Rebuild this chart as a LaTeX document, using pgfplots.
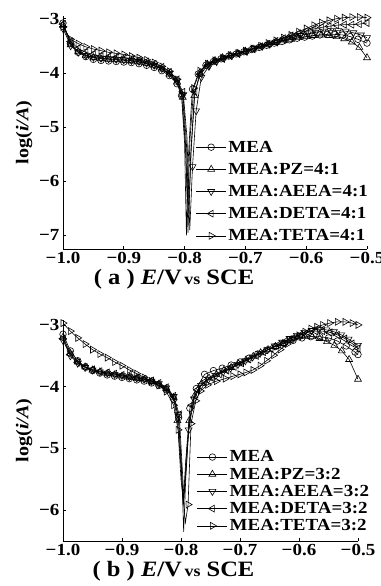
\documentclass[border=0pt]{standalone}
\usepackage{fontspec}
\setmainfont{Liberation Serif}[FakeStretch=1.12]
\usepackage{pgfplots}
\pgfplotsset{compat=1.18}
\pgfplotsset{
  tafel/.style={
    scale only axis,
    xmin=-1, xmax=-0.5,
    axis x line*=bottom, axis y line*=left,
    tick align=inside,
    major tick length=3bp,
    axis line style={line width=0.8pt},
    every tick/.style={line width=0.7pt, black},
    xtick={-1,-0.9,-0.8,-0.7,-0.6,-0.5},
    xticklabels={−1.0,−0.9,−0.8,−0.7,−0.6,−0.5},
    tick label style={font=\fontsize{17}{17}\selectfont\bfseries},
    ylabel={log(\textit{i/A})},
    ylabel style={font=\fontsize{18}{18}\selectfont\bfseries},
    xlabel style={font=\fontsize{22}{22}\selectfont\bfseries},
    unbounded coords=jump,
    every axis plot/.append style={line width=0.6pt, black},
    mark size=4bp,
    legend cell align=left,
    legend image code/.code={\draw[mark repeat=2,mark phase=2,#1] plot coordinates {(0bp,0bp) (15bp,0bp) (30bp,0bp)};},
  },
  mo/.style={mark=o, mark size=3.3bp, mark options={solid, fill=white}},
  mu/.style={mark=triangle, mark options={solid, fill=white}},
  md/.style={mark=triangle, mark options={solid, fill=white, rotate=180}},
  ml/.style={mark=triangle, mark options={solid, fill=white, rotate=90}},
  mr/.style={mark=triangle, mark options={solid, fill=white, rotate=-90}},
}
\begin{document}
\begin{tikzpicture}
\useasboundingbox (0bp,0bp) rectangle (381bp,586bp);
% ---------------- (a) ----------------
\begin{axis}[tafel, at={(63bp,337bp)}, anchor=south west,
  width=304bp, height=233bp, ymin=-7.25, ymax=-2.95,
  ytick={-7,-6,-5,-4,-3}, yticklabels={−7,−6,−5,−4,−3},
  xlabel={( a ) \textit{E}/V{\fontsize{16}{16}\selectfont\,vs} SCE},
  xlabel style={xshift=-41bp, yshift=2bp},
  legend style={at={(rel axis cs:1.01,0.02)}, anchor=south east, draw=none, fill=none, inner sep=0pt,
    row sep=5.5bp, font=\fontsize{17}{17}\selectfont\bfseries},
]
\addplot[mo] coordinates {(-1.0,-3.08) (-0.9875,-3.45) (-0.975,-3.62) (-0.9625,-3.70) (-0.95,-3.75) (-0.9375,-3.77) (-0.925,-3.78) (-0.9125,-3.79) (-0.9,-3.80) (-0.8875,-3.81) (-0.875,-3.83) (-0.8625,-3.86) (-0.85,-3.90) (-0.8375,-3.96) (-0.825,-4.05) (-0.8125,-4.20) (-0.805,-4.42) (-0.8,nan) (-0.787,-4.30) (-0.7775,-4.02) (-0.765,-3.86) (-0.7525,-3.79) (-0.74,-3.74) (-0.7275,-3.69) (-0.715,-3.65) (-0.7025,-3.61) (-0.69,-3.57) (-0.6775,-3.53) (-0.665,-3.49) (-0.6525,-3.45) (-0.64,-3.42) (-0.6275,-3.39) (-0.615,-3.36) (-0.6025,-3.34) (-0.59,-3.32) (-0.5775,-3.30) (-0.565,-3.29) (-0.5525,-3.29) (-0.54,-3.30) (-0.5275,-3.33) (-0.515,-3.38) (-0.5,-3.45)};
\addlegendentry{MEA}
\addplot[mu] coordinates {(-1.0,-3.12) (-0.9875,-3.48) (-0.975,-3.61) (-0.9625,-3.68) (-0.95,-3.72) (-0.9375,-3.74) (-0.925,-3.75) (-0.9125,-3.76) (-0.9,-3.77) (-0.8875,-3.78) (-0.875,-3.80) (-0.8625,-3.83) (-0.85,-3.87) (-0.8375,-3.93) (-0.825,-4.02) (-0.8125,-4.17) (-0.803,-4.45) (-0.8,nan) (-0.784,-4.42) (-0.775,-4.00) (-0.7625,-3.84) (-0.75,-3.77) (-0.7375,-3.72) (-0.725,-3.68) (-0.7125,-3.64) (-0.7,-3.60) (-0.6875,-3.56) (-0.675,-3.52) (-0.6625,-3.48) (-0.65,-3.44) (-0.6375,-3.41) (-0.625,-3.38) (-0.6125,-3.35) (-0.6,-3.33) (-0.5875,-3.31) (-0.575,-3.30) (-0.5625,-3.31) (-0.55,-3.33) (-0.5375,-3.37) (-0.525,-3.43) (-0.5125,-3.53) (-0.5,-3.72)};
\addlegendentry{MEA:PZ=4:1}
\addplot[md] coordinates {(-1.0,-3.18) (-0.9875,-3.50) (-0.975,-3.62) (-0.9625,-3.68) (-0.95,-3.71) (-0.9375,-3.73) (-0.925,-3.74) (-0.9125,-3.75) (-0.9,-3.76) (-0.8875,-3.77) (-0.875,-3.79) (-0.8625,-3.82) (-0.85,-3.86) (-0.8375,-3.92) (-0.825,-4.01) (-0.8125,-4.15) (-0.802,-4.40) (-0.8,nan) (-0.787,-5.73) (-0.781,-4.70) (-0.7725,-4.08) (-0.76,-3.88) (-0.7475,-3.79) (-0.735,-3.73) (-0.7225,-3.68) (-0.71,-3.64) (-0.6975,-3.60) (-0.685,-3.55) (-0.6725,-3.51) (-0.66,-3.47) (-0.6475,-3.43) (-0.635,-3.39) (-0.6225,-3.35) (-0.61,-3.31) (-0.5975,-3.28) (-0.585,-3.25) (-0.5725,-3.23) (-0.56,-3.22) (-0.5475,-3.22) (-0.535,-3.23) (-0.5225,-3.26) (-0.51,-3.30) (-0.5,-3.35)};
\addlegendentry{MEA:AEEA=4:1}
\addplot[ml] coordinates {(-1.0,-3.10) (-0.9875,-3.42) (-0.975,-3.55) (-0.9625,-3.62) (-0.95,-3.66) (-0.9375,-3.69) (-0.925,-3.70) (-0.9125,-3.71) (-0.9,-3.72) (-0.8875,-3.74) (-0.875,-3.76) (-0.8625,-3.79) (-0.85,-3.83) (-0.8375,-3.89) (-0.825,-3.98) (-0.8125,-4.12) (-0.803,-4.35) (-0.8,nan) (-0.783,-4.35) (-0.774,-4.02) (-0.762,-3.86) (-0.75,-3.79) (-0.7375,-3.74) (-0.725,-3.69) (-0.7125,-3.65) (-0.7,-3.61) (-0.6875,-3.56) (-0.675,-3.51) (-0.6625,-3.46) (-0.65,-3.41) (-0.6375,-3.36) (-0.625,-3.31) (-0.6125,-3.27) (-0.6,-3.23) (-0.5875,-3.19) (-0.575,-3.16) (-0.5625,-3.14) (-0.55,-3.12) (-0.5375,-3.11) (-0.525,-3.11) (-0.5125,-3.10) (-0.5,-3.08)};
\addlegendentry{MEA:DETA=4:1}
\addplot[mr] coordinates {(-1.0,-3.15) (-0.9875,-3.38) (-0.975,-3.46) (-0.9625,-3.52) (-0.95,-3.56) (-0.9375,-3.59) (-0.925,-3.62) (-0.9125,-3.64) (-0.9,-3.66) (-0.8875,-3.69) (-0.875,-3.72) (-0.8625,-3.76) (-0.85,-3.81) (-0.8375,-3.88) (-0.825,-3.97) (-0.8125,-4.12) (-0.805,-4.38) (-0.8,nan) (-0.785,-4.28) (-0.775,-3.96) (-0.7625,-3.83) (-0.75,-3.77) (-0.7375,-3.72) (-0.725,-3.67) (-0.7125,-3.63) (-0.7,-3.59) (-0.6875,-3.55) (-0.675,-3.50) (-0.6625,-3.45) (-0.65,-3.40) (-0.6375,-3.35) (-0.625,-3.30) (-0.6125,-3.24) (-0.6,-3.18) (-0.5875,-3.12) (-0.575,-3.07) (-0.5625,-3.03) (-0.55,-3.00) (-0.5375,-2.98) (-0.525,-2.97) (-0.5125,-2.97) (-0.5,-2.98)};
\addlegendentry{MEA:TETA=4:1}
% dips
\addplot[forget plot] coordinates {(-0.805,-4.42) (-0.800,-5.3) (-0.797,-7.0) (-0.794,-5.6) (-0.790,-4.8) (-0.787,-4.30)};
\addplot[forget plot] coordinates {(-0.803,-4.45) (-0.798,-5.4) (-0.7945,-6.95) (-0.790,-5.5) (-0.784,-4.42)};
\addplot[forget plot] coordinates {(-0.802,-4.40) (-0.796,-5.2) (-0.7915,-6.9) (-0.787,-5.73)};
\addplot[forget plot] coordinates {(-0.803,-4.35) (-0.797,-5.3) (-0.793,-6.6) (-0.789,-5.4) (-0.783,-4.35)};
\addplot[forget plot] coordinates {(-0.805,-4.38) (-0.799,-5.3) (-0.795,-6.4) (-0.791,-5.2) (-0.785,-4.28)};
\end{axis}
% ---------------- (b) ----------------
\begin{axis}[tafel, at={(63bp,45bp)}, anchor=south west,
  width=295bp, height=221bp, ymin=-6.5, ymax=-2.92,
  ytick={-6,-5,-4,-3}, yticklabels={−6,−5,−4,−3},
  xlabel={( b ) \textit{E}/V{\fontsize{16}{16}\selectfont\,vs} SCE},
  xlabel style={xshift=-37bp, yshift=2bp},
  legend style={at={(rel axis cs:1.045,0.03)}, anchor=south east, draw=none, fill=none, inner sep=0pt,
    row sep=0.5bp, font=\fontsize{17}{17}\selectfont\bfseries},
]
\addplot[mo] coordinates {(-1.0,-3.15) (-0.9875,-3.42) (-0.975,-3.58) (-0.9625,-3.68) (-0.95,-3.74) (-0.9375,-3.78) (-0.925,-3.81) (-0.9125,-3.83) (-0.9,-3.85) (-0.8875,-3.87) (-0.875,-3.89) (-0.8625,-3.91) (-0.85,-3.94) (-0.8375,-3.98) (-0.825,-4.05) (-0.8125,-4.20) (-0.804,-4.50) (-0.8,nan) (-0.785,-4.35) (-0.774,-4.03) (-0.76,-3.80) (-0.745,-3.74) (-0.73,-3.70) (-0.715,-3.65) (-0.7,-3.60) (-0.685,-3.54) (-0.67,-3.47) (-0.655,-3.41) (-0.64,-3.35) (-0.625,-3.30) (-0.61,-3.25) (-0.595,-3.21) (-0.58,-3.19) (-0.565,-3.19) (-0.55,-3.21) (-0.535,-3.26) (-0.52,-3.34) (-0.505,-3.44) (-0.5,-3.48)};
\addlegendentry{MEA}
\addplot[mu] coordinates {(-1.0,-3.20) (-0.9875,-3.46) (-0.975,-3.60) (-0.9625,-3.68) (-0.95,-3.73) (-0.9375,-3.76) (-0.925,-3.79) (-0.9125,-3.81) (-0.9,-3.83) (-0.8875,-3.85) (-0.875,-3.87) (-0.8625,-3.89) (-0.85,-3.92) (-0.8375,-3.96) (-0.825,-4.03) (-0.8125,-4.18) (-0.806,-4.55) (-0.8,nan) (-0.786,-4.55) (-0.777,-4.15) (-0.765,-3.95) (-0.7525,-3.86) (-0.74,-3.80) (-0.7275,-3.74) (-0.715,-3.69) (-0.7025,-3.63) (-0.69,-3.57) (-0.6775,-3.51) (-0.665,-3.45) (-0.6525,-3.40) (-0.64,-3.35) (-0.6275,-3.30) (-0.615,-3.25) (-0.6025,-3.21) (-0.59,-3.19) (-0.5775,-3.19) (-0.565,-3.22) (-0.5525,-3.27) (-0.54,-3.33) (-0.5275,-3.42) (-0.515,-3.56) (-0.5,-3.88)};
\addlegendentry{MEA:PZ=3:2}
\addplot[md] coordinates {(-1.0,-3.25) (-0.9875,-3.50) (-0.975,-3.62) (-0.9625,-3.69) (-0.95,-3.73) (-0.9375,-3.76) (-0.925,-3.78) (-0.9125,-3.80) (-0.9,-3.82) (-0.8875,-3.84) (-0.875,-3.86) (-0.8625,-3.88) (-0.85,-3.91) (-0.8375,-3.95) (-0.825,-4.02) (-0.8125,-4.16) (-0.805,-4.45) (-0.8,nan) (-0.787,-4.70) (-0.778,-4.20) (-0.766,-3.98) (-0.7535,-3.88) (-0.741,-3.82) (-0.7285,-3.76) (-0.716,-3.70) (-0.7035,-3.64) (-0.691,-3.58) (-0.6785,-3.52) (-0.666,-3.46) (-0.6535,-3.40) (-0.641,-3.34) (-0.6285,-3.28) (-0.616,-3.22) (-0.6035,-3.17) (-0.591,-3.12) (-0.5785,-3.09) (-0.566,-3.07) (-0.5535,-3.08) (-0.541,-3.11) (-0.5285,-3.16) (-0.516,-3.23) (-0.5,-3.33)};
\addlegendentry{MEA:AEEA=3:2}
\addplot[ml] coordinates {(-1.0,-3.22) (-0.9875,-3.48) (-0.975,-3.61) (-0.9625,-3.68) (-0.95,-3.72) (-0.9375,-3.75) (-0.925,-3.77) (-0.9125,-3.79) (-0.9,-3.81) (-0.8875,-3.83) (-0.875,-3.85) (-0.8625,-3.87) (-0.85,-3.90) (-0.8375,-3.94) (-0.825,-4.01) (-0.8125,-4.15) (-0.803,-4.45) (-0.8,nan) (-0.782,-4.30) (-0.772,-4.05) (-0.76,-3.92) (-0.7475,-3.86) (-0.735,-3.80) (-0.7225,-3.74) (-0.71,-3.68) (-0.6975,-3.62) (-0.685,-3.56) (-0.6725,-3.50) (-0.66,-3.44) (-0.6475,-3.38) (-0.635,-3.32) (-0.6225,-3.26) (-0.61,-3.21) (-0.5975,-3.16) (-0.585,-3.12) (-0.5725,-3.10) (-0.56,-3.10) (-0.5475,-3.12) (-0.535,-3.16) (-0.5225,-3.22) (-0.51,-3.30) (-0.5,-3.38)};
\addlegendentry{MEA:DETA=3:2}
\addplot[mr] coordinates {(-1.0,-2.97) (-0.9875,-3.10) (-0.975,-3.21) (-0.9625,-3.31) (-0.95,-3.40) (-0.9375,-3.47) (-0.925,-3.53) (-0.9125,-3.60) (-0.9,-3.66) (-0.8875,-3.73) (-0.875,-3.79) (-0.8625,-3.85) (-0.85,-3.91) (-0.8375,-3.98) (-0.825,-4.08) (-0.8125,-4.30) (-0.805,-4.70) (-0.8,nan) (-0.788,-5.91) (-0.783,-4.60) (-0.775,-4.23) (-0.767,-4.07) (-0.755,-3.97) (-0.74,-3.91) (-0.725,-3.87) (-0.712,-3.83) (-0.7,-3.80) (-0.69,-3.77) (-0.678,-3.73) (-0.666,-3.66) (-0.655,-3.58) (-0.643,-3.49) (-0.632,-3.40) (-0.62,-3.31) (-0.61,-3.23) (-0.6,-3.17) (-0.59,-3.11) (-0.58,-3.06) (-0.57,-3.03) (-0.56,-3.00) (-0.548,-2.97) (-0.535,-2.95) (-0.522,-2.95) (-0.51,-2.97) (-0.5,-3.00)};
\addlegendentry{MEA:TETA=3:2}
% dips
\addplot[forget plot] coordinates {(-0.804,-4.50) (-0.799,-5.4) (-0.796,-5.85) (-0.792,-5.2) (-0.785,-4.35)};
\addplot[forget plot] coordinates {(-0.806,-4.55) (-0.8,-5.3) (-0.796,-5.9) (-0.791,-5.3) (-0.786,-4.55)};
\addplot[forget plot] coordinates {(-0.805,-4.45) (-0.799,-5.3) (-0.7955,-6.35) (-0.792,-5.5) (-0.787,-4.70)};
\addplot[forget plot] coordinates {(-0.803,-4.45) (-0.798,-5.3) (-0.795,-5.8) (-0.790,-5.0) (-0.782,-4.30)};
\addplot[forget plot] coordinates {(-0.805,-4.70) (-0.800,-5.5) (-0.7925,-6.2) (-0.788,-5.91)};
\end{axis}
\end{tikzpicture}
\end{document}
